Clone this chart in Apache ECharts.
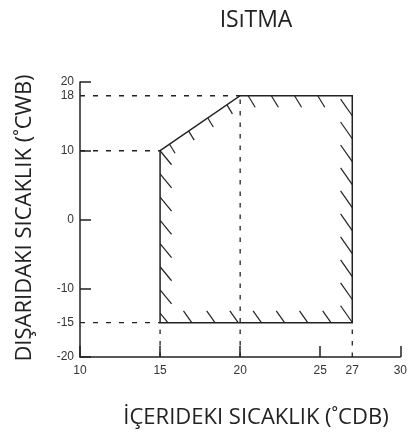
<!DOCTYPE html>
<html>
<head>
<meta charset="utf-8">
<script src="https://cdn.jsdelivr.net/npm/echarts@6/dist/echarts.min.js"></script>
<style>
  html, body { margin: 0; padding: 0; background: #fff; }
  #chart { width: 410px; height: 442px; }
</style>
</head>
<body>
<div id="chart"></div>
<script>
// operating range corners (indoor °CDB, outdoor °CWB)
const boundaryX = [15, 15, 20, 27, 27];
const boundaryY = [-15, 10, 18, 18, -15];

// tick labels
const xLabels = [10, 15, 20, 25, 27, 30];
const yLabels = [-20, -15, -10, 0, 10, 18, 20];

// dashed guide lines
const hGuideY = [18, 10, -15];
const hGuideToX = [20, 15, 15];
const vGuideX = [15, 20, 27];
const vGuideToY = [-15, 18, -15];

const title = "ISıTMA";
const xName = "İÇERIDEKI SICAKLIK (˚CDB)";
const yName = "DIŞARIDAKI SICAKLIK (˚CWB)";

const ink = "#222";

var myChart = echarts.init(document.getElementById("chart"));

// hatch style per edge: [from, to, first offset px, step px, count, dx, dy]
const hatchSpec = [
  [1, 0, 0, 23.2, 8, 11.5, 14],
  [1, 2, 11.5, 23.2, 4, 5.5, 9],
  [2, 3, 8, 23.2, 4, 7, 11.5],
  [3, 4, 20, 22.97, 10, -11.7, -16.7],
  [0, 4, 31.7, 23.2, 7, -8.3, -11.7],
];

function renderZone(params, api) {
  if (params.dataIndex !== 0) return null;
  var pts = boundaryX.map((x, i) => api.coord([x, boundaryY[i]]));
  var bottomPx = pts[0][1];
  var children = [
    {
      type: "polygon",
      shape: { points: pts },
      style: { fill: "none", stroke: ink, lineWidth: 1.5 },
    },
  ];
  hatchSpec.forEach((h) => {
    var a = pts[h[0]], b = pts[h[1]];
    var len = Math.hypot(b[0] - a[0], b[1] - a[1]);
    var ux = (b[0] - a[0]) / len, uy = (b[1] - a[1]) / len;
    for (var k = 0; k < h[4]; k++) {
      var d = h[2] + k * h[3];
      var sx = a[0] + ux * d, sy = a[1] + uy * d;
      var ex = sx + h[5], ey = sy + h[6];
      if (ey > bottomPx) {
        var t = (bottomPx - sy) / h[6];
        ex = sx + h[5] * t;
        ey = bottomPx;
      }
      children.push({
        type: "line",
        shape: { x1: sx, y1: sy, x2: ex, y2: ey },
        style: { stroke: ink, lineWidth: 1.2 },
      });
    }
  });
  return { type: "group", children: children };
}

var series = [];
hGuideY.forEach((y, i) => {
  series.push({
    type: "line",
    data: [[10, y], [hGuideToX[i], y]],
    symbol: "none",
    silent: true,
    lineStyle: { color: ink, width: 1.3, type: [5, 8] },
  });
});
vGuideX.forEach((x, i) => {
  series.push({
    type: "line",
    data: [[x, -20], [x, vGuideToY[i]]],
    symbol: "none",
    silent: true,
    lineStyle: { color: ink, width: 1.3, type: [4.5, 7] },
  });
});
series.push({
  type: "custom",
  renderItem: renderZone,
  data: boundaryX.map((x, i) => [x, boundaryY[i]]),
  silent: true,
  z: 5,
});

var option = {
  animation: false,
  backgroundColor: "#fff",
  grid: { left: 80, right: 8, top: 82, bottom: 85 },
  xAxis: {
    type: "value",
    min: 10,
    max: 30,
    interval: 5,
    axisLine: { onZero: false, lineStyle: { color: ink, width: 1.5 } },
    axisTick: { inside: true, length: 11, lineStyle: { color: ink, width: 1.5 } },
    axisLabel: {
      customValues: xLabels,
      color: "#333",
      fontSize: 12,
      fontFamily: "Liberation Sans",
      margin: 8,
    },
    splitLine: { show: false },
  },
  yAxis: {
    type: "value",
    min: -20,
    max: 20,
    interval: 10,
    axisLine: { onZero: false, lineStyle: { color: ink, width: 1.5 } },
    axisTick: { inside: true, length: 11, lineStyle: { color: ink, width: 1.5 } },
    axisLabel: {
      customValues: yLabels,
      color: "#333",
      fontSize: 12,
      fontFamily: "Liberation Sans",
      margin: 6,
    },
    splitLine: { show: false },
  },
  graphic: [
    {
      type: "text",
      x: 256,
      y: 20,
      style: {
        text: title,
        fill: ink,
        font: '23px "Open Sans"',
        textAlign: "center",
        textVerticalAlign: "middle",
      },
    },
    {
      type: "text",
      x: 256,
      y: 418,
      style: {
        text: xName,
        fill: ink,
        font: '22px "Open Sans"',
        textAlign: "center",
        textVerticalAlign: "middle",
      },
    },
    {
      type: "text",
      x: 25,
      y: 218,
      rotation: Math.PI / 2,
      style: {
        text: yName,
        fill: ink,
        font: '22px "Open Sans"',
        textAlign: "center",
        textVerticalAlign: "middle",
      },
    },
  ],
  series: series,
};

option && myChart.setOption(option);
</script>
</body>
</html>
